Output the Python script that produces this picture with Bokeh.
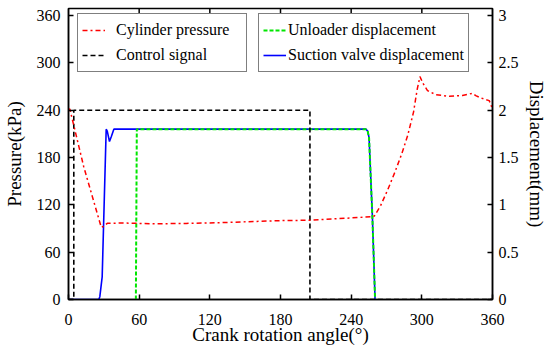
from bokeh.plotting import figure
from bokeh.models import Range1d, LinearAxis, FixedTicker, NumeralTickFormatter, Legend, LegendItem
from bokeh.embed import file_html
from bokeh.resources import INLINE

# ---- data ----
x_ticks = [0, 60, 120, 180, 240, 300, 360]
p_ticks = [0, 60, 120, 180, 240, 300, 360]
d_ticks = [0, 0.5, 1, 1.5, 2, 2.5, 3]

pressure_angle = [0, 1.1, 13, 27.8, 29.5, 32.9, 45, 60, 75, 100, 130, 160, 180, 204, 235, 252, 257,
                  259.8, 265, 271, 277, 283, 288, 293, 296, 298.4, 301, 304.8, 311.8,
                  323.2, 334.5, 343, 345.8, 350.1, 357.2, 360]
pressure_kpa = [240, 241.7, 168, 91.6, 92.5, 96.6, 97, 96.5, 96, 96.5, 97.5, 99, 100, 100.5, 103, 104.5, 105,
                106, 119, 139, 161, 185, 208, 238, 266, 282.6, 274, 264.9, 259.8,
                257.7, 258.6, 261.5, 258.6, 255.6, 252.2, 241.7]

control_angle = [0, 4.5, 4.5, 205, 205, 360]
control_mm = [0, 0, 2, 2, 0, 0]

unloader_angle = [57.2, 58.0, 252.4, 254, 255.2, 258, 260.3]
unloader_mm = [0, 1.8, 1.8, 1.78, 1.71, 0.88, 0]

suction_angle = [0, 25.7, 26.6, 28.6, 32.0, 32.9, 34.8, 36.3, 38.5, 252.4, 254, 255.2, 258, 260.3]
suction_mm = [0, 0, 0.03, 0.24, 1.8, 1.78, 1.67, 1.72, 1.8, 1.8, 1.78, 1.71, 0.88, 0]

FONT = "Liberation Serif"
P_TOP = 369.0
D_TOP = P_TOP / 120.0

p = figure(width=550, height=348, output_backend="svg", toolbar_location=None,
           x_range=Range1d(0, 360), y_range=Range1d(0, P_TOP),
           min_border_left=68, min_border_right=58, min_border_top=8, min_border_bottom=49)
p.extra_y_ranges = {"disp": Range1d(0, D_TOP)}
p.xgrid.visible = False
p.ygrid.visible = False
p.outline_line_color = "black"
p.outline_line_width = 1.5
p.background_fill_color = "white"
p.border_fill_color = "white"

def style_axis(ax, ticks):
    ax.ticker = FixedTicker(ticks=ticks)
    ax.major_tick_in = 5
    ax.major_tick_out = 0
    ax.minor_tick_in = 0
    ax.minor_tick_out = 0
    ax.axis_line_color = "black"
    ax.axis_line_width = 1.5
    ax.major_tick_line_color = "black"
    ax.major_tick_line_width = 1.5
    ax.major_label_text_font = FONT
    ax.major_label_text_font_size = "16px"
    ax.major_label_text_color = "black"
    ax.axis_label_text_font = FONT
    ax.axis_label_text_font_size = "19px"
    ax.axis_label_text_font_style = "normal"
    ax.axis_label_text_color = "black"

xa = p.xaxis[0]
style_axis(xa, x_ticks)
xa.axis_label = "Crank rotation angle(°)"
xa.major_label_standoff = 14
xa.axis_label_standoff = -4

ya = p.yaxis[0]
style_axis(ya, p_ticks)
ya.axis_label = "Pressure(kPa)"
ya.major_label_standoff = 8
ya.axis_label_standoff = 9

ra = LinearAxis(y_range_name="disp", axis_label="Displacement(mm)")
style_axis(ra, d_ticks)
ra.formatter = NumeralTickFormatter(format="0.[0]")
ra.major_label_standoff = 6
ra.axis_label_standoff = 4
p.add_layout(ra, "right")

# tick marks on the top edge (inward)
p.ray(x=x_ticks[1:-1], y=[P_TOP] * (len(x_ticks) - 2), length=5, length_units="screen",
      angle=-90, angle_units="deg", line_color="black", line_width=1.5)

r_suc = p.line(suction_angle, suction_mm, y_range_name="disp", line_color="#0000FF", line_width=1.6)
r_unl = p.line(unloader_angle, unloader_mm, y_range_name="disp", line_color="#00E600", line_width=2,
               line_dash="4 2")
r_ctl = p.line(control_angle, control_mm, y_range_name="disp", line_color="black", line_width=1.6,
               line_dash="5 3")
r_prs = p.line(pressure_angle, pressure_kpa, line_color="#FF0000", line_width=1.5, line_dash="5 3 2 3")

def make_legend(items, loc, standoff, label_width):
    lg = Legend(items=items, location=loc)
    lg.border_line_color = "black"
    lg.border_line_width = 1.5
    lg.background_fill_color = "white"
    lg.background_fill_alpha = 1
    lg.label_text_font = FONT
    lg.label_text_font_size = "16px"
    lg.label_text_color = "black"
    lg.glyph_width = 23
    lg.glyph_height = 24
    lg.label_height = 24
    lg.label_standoff = standoff
    lg.label_width = label_width
    lg.padding = 4
    lg.spacing = 1
    lg.margin = 0
    return lg

leg1 = make_legend([LegendItem(label="Cylinder pressure", renderers=[r_prs]),
                    LegendItem(label="Control signal", renderers=[r_ctl])], (9, 227), 11, 126)
leg2 = make_legend([LegendItem(label="Unloader displacement", renderers=[r_unl]),
                    LegendItem(label="Suction valve displacement", renderers=[r_suc])], (190, 227), 2, 170)
p.add_layout(leg1)
p.add_layout(leg2)

open("out.html", "w").write(file_html(p, INLINE))
